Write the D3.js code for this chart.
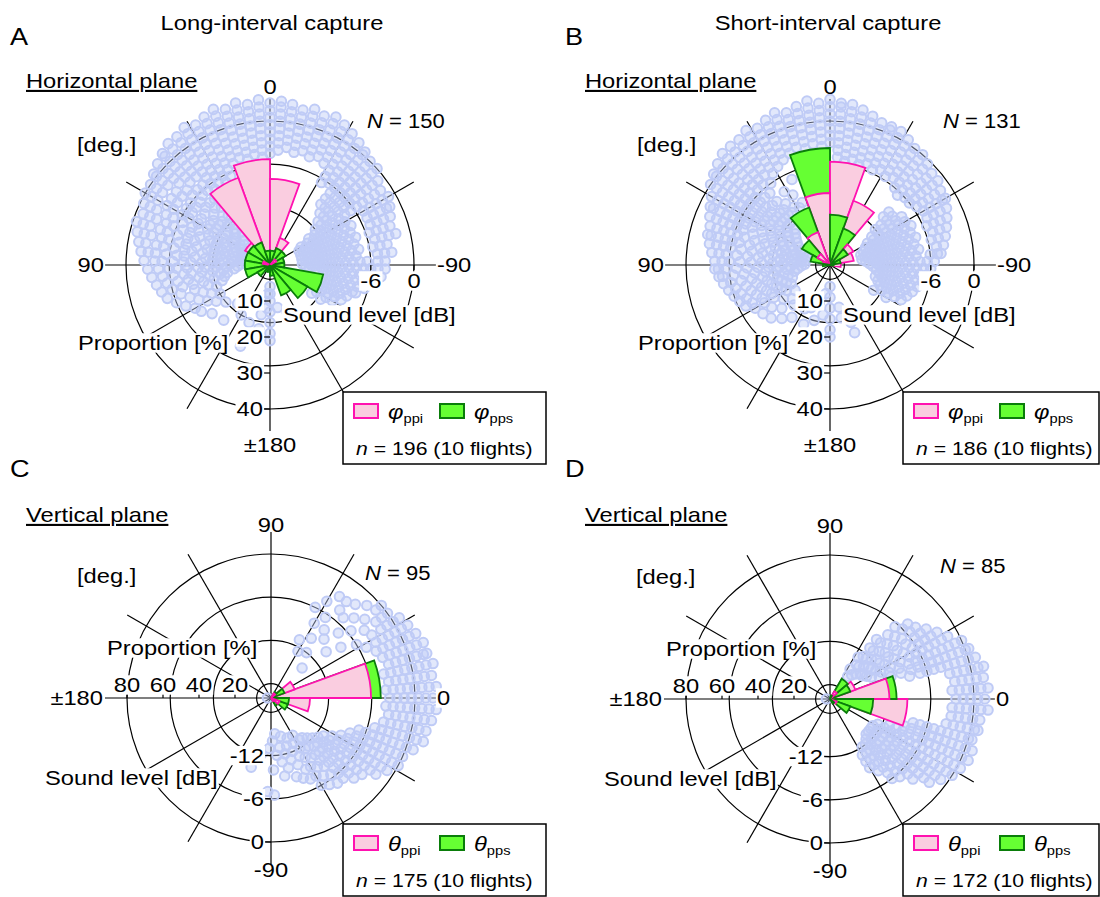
<!DOCTYPE html>
<html><head><meta charset="utf-8">
<script src="https://cdn.jsdelivr.net/npm/d3@7"></script>
<style>body{margin:0;background:#fff}svg{display:block}</style>
</head><body><svg id="chart" width="1100" height="897"></svg>
<script>
// ---------- data ----------
const binStarts = [-180,-160,-140,-120,-100,-80,-60,-40,-20,0,20,40,60,80,100,120,140,160];
const ppiA = [0,0,0,0,0,0,2,8,23.9,29.4,25.8,8,2,0,0,0,0,0];
const ppsA = [3,9,12,15,4,4,5,5,4,4,6.7,7,7,7,7,4,2,2];
const ppiB = [0,0,0,0,3,6.7,7.5,19,28.7,20,9.7,4,2,0,0,0,0,0];
const ppsB = [0,0,0,0,1,3,5.7,10.8,14,32.5,17,9,5.5,2,0,0,0,0];
const ppiC = [0,0,0,0,0,0,2,5,21.7,55.6,14,3,0,0,0,0,0,0];
const ppsC = [0,0,0,0,0,0,5,10,10,61,8,4,0,0,0,0,0,0];
const ppiD = [0,0,0,0,0,0,0,4,43,33,15,5,0,0,0,0,0,0];
const ppsD = [0,0,0,0,0,0,3,12,24,37,12,13,2,0,0,0,0,0];
const dbTicks = [-18,-12,-6,0];
const dbLabelsH = [-6,0];
const dbLabelsV = [-12,-6,0];
const propTicksH = [10,20,30,40];
const propTicksV = [20,40,60,80];
const spokeAngles = [0,30,60,90,120,150,180,210,240,270,300,330];

// scatter rows: [angle (deg), [sound level dB ...]]
const scatterA = [
[180,[-17,-16,-15,-13.5,-12,-10.5,-9.5]],[176,[-16,-14]],[170,[-13,-11]],[160,[-11.5,-8]],[150,[-12]],
[140,[-13,-10]],[130,[-12,-9.5]],[124,[-11,-8.5]],[120,[-12,-10,-8]],[116,[-11,-9,-7]],
[112,[-12,-10,-8,-6]],[108,[-13,-11,-9,-7,-5]],[104,[-13.5,-12,-10.5,-9,-7.5,-6,-4.5]],
[100,[-14,-13,-11.5,-10,-8.5,-7,-5.5,-4]],[96,[-15,-13.5,-12,-10.5,-9,-8,-6.5,-5,-3.5]],
[92,[-15.5,-14,-12.5,-11,-10,-8.5,-7,-6,-4.5,-3]],[88,[-16,-14.5,-13,-12,-10.5,-9,-8,-6.5,-5,-4,-2.5]],
[84,[-16.5,-15,-13.5,-12,-11,-9.5,-8,-7,-5.5,-4,-3,-2]],[80,[-16,-14.5,-13,-12,-10.5,-9,-8,-6.5,-5,-4,-2.5,-1.5]],
[76,[-16.5,-15,-13.5,-12,-11,-9.5,-8,-7,-5.5,-4.5,-3,-2,-1]],[72,[-16,-14.5,-13,-12,-10.5,-9,-8,-6.5,-5,-4,-2.5,-1.5,-0.5]],
[68,[-16.5,-15,-13.5,-12,-11,-9.5,-8,-7,-5.5,-4.5,-3,-2,-1]],[64,[-16,-14.5,-13,-12,-10.5,-9,-8,-6.5,-5,-4,-2.5,-1.5,-0.5]],
[60,[-15.5,-14,-12.5,-11,-10,-8.5,-7,-6,-4.5,-3.5,-2,-1,0]],[56,[-15,-14,-12.5,-11,-10,-8.5,-7,-6,-4.5,-3.5,-2,-1,0]],
[52,[-15.5,-14,-12.5,-11,-10,-8.5,-7,-6,-4.5,-3.5,-2,-1,0,0.5]],[48,[-15,-13.5,-12,-11,-9.5,-8,-7,-5.5,-4.5,-3,-2,-1,0,1]],
[44,[-14.5,-13,-12,-10.5,-9,-8,-6.5,-5.5,-4,-3,-2,-1,0,1,1.5]],[40,[-14,-12.5,-11,-9.5,-8,-6.5,-5.5,-4,-3,-2,-1,0,1,2]],
[36,[-7,-6,-5,-4,-3,-2,-1,0,1,2]],[32,[-6.5,-5.5,-4.5,-3.5,-2.5,-1.5,-0.5,0.5,1.5,2.5]],
[28,[-7,-6,-5,-4,-3,-2,-1,0,1,2]],[24,[-6.5,-5.5,-4.5,-3.5,-2.5,-1.5,-0.5,0.5,1.5,2.5]],
[20,[-5,-4,-3,-2,-1,0,1,2,3]],[16,[-4.5,-3.5,-2.5,-1.5,-0.5,0.5,1.5,2.5]],[12,[-5,-4,-3,-2,-1,0,1,2,3]],
[8,[-4.5,-3.5,-2.5,-1.5,-0.5,0.5,1.5,2.5]],[4,[-5,-4,-3,-2,-1,0,1,2,3]],[0,[-4.5,-3.5,-2.5,-1.5,-0.5,0.5,1.5,2.5]],
[-4,[-4,-3,-2,-1,0,1,2,2.8]],[-8,[-3.5,-2.5,-1.5,-0.5,0.5,1.5,2.5]],[-12,[-4,-3,-2,-1,0,1,2]],
[-16,[-3.5,-2.5,-1.5,-0.5,0.5,1.5,2.5]],[-20,[-4,-3,-2,-1,0,1,2]],[-24,[-3.5,-2.5,-1.5,-0.5,0.5,1.5,2.5]],
[-28,[-4,-3,-2,-1,0,1,2]],[-32,[-6.5,-5.5,-4.5,-3.5,-2.5,-1.5,-0.5,0.5,1.5]],[-36,[-6,-5,-4,-3,-2,-1,0,1]],
[-40,[-9,-8,-7,-6,-5,-4,-3,-2,-1,0,0.5]],[-44,[-10,-9,-8,-7,-6,-5,-4,-3,-2,-1,0]],
[-48,[-11,-10,-9,-8,-7,-6,-5,-4,-3,-2,-1,0]],[-52,[-12,-11,-10,-9,-8,-7,-6,-5,-4,-3,-2,-1]],
[-56,[-13.5,-12.5,-11.5,-10.5,-9.5,-8.5,-7.5,-6.5,-5.5,-4.5,-3.5,-2.5,-1.5]],
[-60,[-15,-14,-13,-12,-11,-10,-9,-8,-5,-4,-3,-2,-1]],[-64,[-15.5,-14.5,-13.5,-12.5,-11.5,-10.5,-9.5,-8.5,-7.5,-5,-4,-3,-2,-1.5]],
[-68,[-15,-14,-13,-12,-11,-10,-9,-8,-5,-4,-3,-2]],[-72,[-15.5,-14.5,-13.5,-12.5,-11.5,-10.5,-9.5,-8.5,-7.5,-5.5,-4.5,-3.5,-2.5]],
[-76,[-15,-14,-13,-12,-11,-10,-9,-8,-5,-4,-3,-2]],[-80,[-15.5,-14.5,-13.5,-12.5,-11.5,-10.5,-9.5,-8.5,-7.5,-5.5,-4.5,-3.5]],
[-84,[-15,-14,-13,-12,-11,-10,-9,-8,-5,-4,-3]],[-88,[-15.5,-14.5,-13.5,-12.5,-11.5,-10.5,-9.5,-8.5,-7.5,-6.5,-5,-4]],
[-92,[-15,-14,-13,-12,-11,-10,-9,-8,-7,-6,-5,-4]],[-96,[-14.5,-13.5,-12.5,-11.5,-10.5,-9.5,-8.5,-7.5,-6.5,-5.5,-4.5]],
[-100,[-12,-11,-10,-9,-8,-7,-6]],[-104,[-12.5,-11.5,-10.5,-9.5,-8.5,-7.5,-6.5]],[-108,[-12,-11,-10,-9,-8,-7.5]],
[-112,[-12.5,-11.5,-10.5,-9.5,-8.5]],[-116,[-12,-11,-10,-9]],[-120,[-12.5,-11,-10]],[-124,[-13,-11.5]],
[-160,[-13]],[-170,[-14]]
];
const scatterB = [
[180,[-17,-15.5,-14,-12.5,-11,-10]],[172,[-16,-13]],[164,[-14.5,-12]],[156,[-13.5,-11]],[150,[-13]],[144,[-14,-11]],
[138,[-12.5,-10]],[132,[-13,-11,-9]],[126,[-14,-12,-10,-8.5]],[120,[-13,-11,-9.5,-8]],[116,[-14,-12.5,-11,-9.5,-8,-7]],
[112,[-13.5,-12,-10.5,-9,-7.5,-6.5]],[108,[-14.5,-13,-11.5,-10,-8.5,-7,-6]],[104,[-14,-12.5,-11,-9.5,-8,-6.5,-5.5]],
[100,[-15,-13.5,-12,-10.5,-9,-7.5,-6,-5]],[96,[-15.5,-14,-12.5,-11,-9.5,-8,-6.5,-5,-4.5]],
[92,[-16,-14.5,-13,-11.5,-10,-8.5,-7,-5.5,-4.5,-4]],[88,[-16.5,-15,-13.5,-12,-10.5,-9,-7.5,-6,-5,-4]],
[84,[-16,-14.5,-13,-11.5,-10,-8.5,-7,-5.5,-4.5,-3.5]],[80,[-16.5,-15,-13.5,-12,-10.5,-9,-7.5,-6,-5,-4,-3]],
[76,[-16,-14.5,-13,-11.5,-10,-8.5,-7,-6,-5,-4,-3,-2.5]],[72,[-16.5,-15,-13.5,-12,-10.5,-9,-7.5,-6.5,-5.5,-4.5,-3.5,-2.5]],
[68,[-16,-14.5,-13,-11.5,-10,-8.5,-7,-6,-5,-4,-3,-2]],[64,[-15.5,-14,-12.5,-11,-9.5,-8,-7,-6,-5,-4,-3,-2,-1.5]],
[60,[-15,-13.5,-12,-10.5,-9,-8,-7,-6,-5,-4,-3,-2,-1]],[56,[-14.5,-13,-11.5,-10,-9,-8,-7,-6,-5,-4,-3,-2,-1,0]],
[52,[-14,-12.5,-11,-10,-9,-8,-7,-6,-5,-4,-3,-2,-1,0,0.5]],[48,[-13.5,-12,-11,-10,-9,-8,-7,-6,-5,-4,-3,-2,-1,0,1]],
[44,[-13,-12,-11,-10,-8.5,-7,-5.5,-4.5,-3.5,-2.5,-1.5,-0.5,0.5,1.5]],[40,[-11,-10,-8.5,-7,-5.5,-4.5,-3.5,-2.5,-1.5,-0.5,0.5,1.5]],
[36,[-11,-9.5,-6,-4.5,-3.5,-2.5,-1.5,-0.5,0.5,1.5]],[32,[-10.5,-8,-5,-4,-3,-2,-1,0,1,2]],
[28,[-11,-9,-4.5,-3.5,-2.5,-1.5,-0.5,0.5,1.5]],[24,[-10.5,-7,-4,-3,-2,-1,0,1,2]],
[20,[-3.5,-2.5,-1.5,-0.5,0.5,1.5,2.5]],[16,[-3,-2,-1,0,1,2]],[12,[-3.5,-2.5,-1.5,-0.5,0.5,1.5,2.5]],
[8,[-3,-2,-1,0,1,2,3]],[4,[-3.5,-2.5,-1.5,-0.5,0.5,1.5,2.5]],[0,[-3,-2,-1,0,1,2,3]],
[-4,[-5,-4,-3,-2,-1,0,1,2,2.5]],[-8,[-5.5,-4.5,-3.5,-2.5,-1.5,-0.5,0.5,1.5,2.5]],[-12,[-5,-4,-3,-2,-1,0,1,2]],
[-16,[-5.5,-4.5,-3.5,-2.5,-1.5,-0.5,0.5,1.5]],[-20,[-5,-4,-3,-2,-1,0,1]],[-24,[-5.5,-4.5,-3.5,-2.5,-1.5,-0.5,0.5,1]],
[-28,[-5,-4,-3,-2,-1,0,1]],[-32,[-5.5,-4.5,-3.5,-2.5,-1.5,-0.5,0.5]],[-36,[-5,-4,-3,-2,-1,0]],
[-40,[-6,-5,-4,-3,-2,-1,0]],[-44,[-6.5,-5.5,-4.5,-3.5,-2.5,-1.5,-0.5]],[-48,[-10,-9,-6,-5,-4,-3,-2,-1]],
[-52,[-12,-11,-10,-9,-6,-5,-4,-3,-2,-1]],[-56,[-13,-12,-11,-10,-9,-8,-5.5,-4.5,-3.5,-2.5,-1.5]],
[-60,[-14,-13,-12,-11,-10,-9,-8,-5,-4,-3,-2,-1.5]],[-64,[-14.5,-13.5,-12.5,-11.5,-10.5,-9.5,-8.5,-7.5,-5,-4,-3,-2]],
[-68,[-15,-14,-13,-12,-11,-10,-9,-8,-5.5,-4.5,-3.5,-2.5]],[-72,[-15.5,-14.5,-13.5,-12.5,-11.5,-10.5,-9.5,-8.5,-7.5,-5,-4,-3]],
[-76,[-15,-14,-13,-12,-11,-10,-9,-8,-5.5,-4.5,-3.5]],[-80,[-15.5,-14.5,-13.5,-12.5,-11.5,-10.5,-9.5,-8.5,-7.5,-5,-4]],
[-84,[-15,-14,-13,-12,-11,-10,-9,-8,-6,-5,-4.5]],[-88,[-14.5,-13.5,-12.5,-11.5,-10.5,-9.5,-8.5,-7.5,-6.5,-5.5]],
[-92,[-14,-13,-12,-11,-10,-9,-8,-7,-6]],[-96,[-13.5,-12.5,-11.5,-10.5,-9.5,-8.5,-7.5,-6.5]],
[-100,[-13,-12,-11,-10,-9,-8,-7]],[-104,[-13.5,-12.5,-11.5,-10.5,-9.5,-8.5,-7.5]],[-108,[-13,-12,-11,-10,-9,-8]],
[-112,[-12.5,-11.5,-10.5,-9.5,-8.5]],[-116,[-12,-11,-10,-9]],[-120,[-13,-11]],[-150,[-12]],[-160,[-11.5,-10]],[-168,[-14,-12.5]]
];
const scatterC = [
[64,[-11,-6]],[60,[-12.5,-8,-4.5]],[56,[-10,-6.5,-3]],[52,[-12,-8,-4.5,-3]],[48,[-9,-5,-2.5]],[44,[-14,-7,-4,-1.5]],
[40,[-10,-5.5,-3,-1,0]],[36,[-8,-4,-2,-1,0]],[32,[-6,-3.5,-2,-1,0,1]],[28,[-5,-3.5,-2.5,-1.5,-0.5,0.5,1.5]],
[24,[-4,-3,-2,-1,0,1,2]],[20,[-3.5,-2.5,-1.5,-0.5,0.5,1.5,2.5]],[16,[-3,-2,-1,0,1,2,2.5]],
[12,[-4,-3,-2,-1,0,1,2,3]],[8,[-3.5,-2.5,-1.5,-0.5,0.5,1.5,2.5]],[4,[-4,-3,-2,-1,0,1,2,3]],
[0,[-3.5,-2.5,-1.5,-0.5,0.5,1.5,2.5]],[-4,[-4,-3,-2,-1,0,1,2,3]],[-8,[-3.5,-2.5,-1.5,-0.5,0.5,1.5,2.5]],
[-12,[-4,-3,-2,-1,0,1,2]],[-16,[-5,-4,-3,-2,-1,0,1,2]],[-20,[-7,-6,-5,-4,-3,-2,-1,0,1]],
[-24,[-8,-7,-6,-5,-4,-3,-2,-1,0]],[-28,[-9,-8,-7,-6,-5,-4,-3,-2,-1,0]],[-32,[-10,-9,-8,-7,-6,-5,-4,-3,-2,-1]],
[-36,[-11,-10,-9,-8,-7,-6,-5,-4,-3,-2]],[-40,[-11.5,-10.5,-9.5,-8.5,-7.5,-6.5,-5.5,-4.5,-3.5]],
[-44,[-12,-11,-10,-9,-8,-7,-6,-5,-4]],[-48,[-12.5,-11,-10,-9,-8,-7,-6,-5]],[-52,[-13,-11.5,-10,-9,-8,-6.5,-5]],
[-56,[-13,-11.5,-10,-8.5,-7,-5.5]],[-60,[-14,-12,-10.5,-9,-7.5,-6]],[-64,[-13,-11,-9,-7.5]],[-68,[-14,-12,-10,-8]],
[-72,[-13,-11,-8.5]],[-76,[-14.5,-12,-10]],[-80,[-13,-11,-9]],[-84,[-15,-12]],[-88,[-14,-10,-6.5]],[-92,[-13,-7]],
[-100,[-12]],[-106,[-10]],[180,[-19.5]]
];
const scatterD = [
[56,[-15,-13]],[52,[-16,-14,-12.5,-11,-9.5]],[48,[-15.5,-14,-12.5,-11,-9.5,-8,-6.5]],[44,[-15,-13.5,-12,-10.5,-9,-7.5,-6,-5]],
[40,[-14.5,-13,-11.5,-10,-8.5,-7,-5.5,-4.5]],[36,[-14.5,-13,-11.5,-10,-8.5,-7,-5.5,-4.5,-3.5]],
[32,[-14,-12.5,-11,-9.5,-8,-6.5,-5.5,-4.5,-3.5,-2.5]],[28,[-13.5,-12,-10.5,-9,-7.5,-6.5,-5.5,-4.5,-3.5,-2.5,-1.5]],
[24,[-12.5,-11,-9.5,-8,-7,-6,-5,-4,-3,-2,-1,0]],[20,[-11,-9.5,-8,-7,-6,-5,-4,-3,-2,-1,0,0.5]],
[16,[-8.5,-7,-6,-5,-4,-3,-2,-1,0,1]],[12,[-3,-2,-1,0,1,1.8]],[8,[-2.5,-1.5,-0.5,0.5,1.5]],[4,[-3,-2,-1,0,1,2]],
[0,[-2.5,-1.5,-0.5,0.5,1.5]],[-4,[-3,-2,-1,0,1,2]],[-8,[-3,-2,-1,0,1]],[-12,[-3.5,-2.5,-1.5,-0.5,0.5,1]],
[-16,[-8,-7,-6,-5,-4,-3,-2,-1,0,0.5]],[-20,[-9,-8,-7,-6,-5,-4,-3,-2,-1,0,1]],
[-24,[-11,-10,-9,-8,-7,-6,-5,-4,-3,-2,-1,0,1]],[-28,[-12.5,-11.5,-10.5,-9.5,-8.5,-7.5,-6.5,-5.5,-4.5,-3.5,-2.5,-1.5,-0.5,0.5]],
[-32,[-13,-12,-11,-10,-9,-8,-7,-6,-5,-4,-3,-2,-1,0]],[-36,[-13,-12,-11,-10,-9,-8,-7,-6,-5,-4,-3,-2,-1]],
[-40,[-13,-12,-11,-10,-9,-8,-7,-6,-5,-4,-3,-2]],[-44,[-13,-12,-11,-10,-9,-8,-7,-6,-5,-4]],
[-48,[-12.5,-11.5,-10.5,-9.5,-8.5,-7.5,-6.5,-5.5]],[-52,[-12,-11,-10,-9,-8,-7,-6]],[-56,[-12,-11,-10,-9,-8]],
[-60,[-11,-10,-9]],[180,[-19.5]]
];

// ---------- drawing ----------
const SX = 1.13;
const FONT = '"Liberation Sans", Arial, Helvetica, sans-serif';
const PINK = "#facde0", MAG = "#ff12b0", GREEN = "#66ff33", DGREEN = "#0a7d0a", DOT = "#bfcbf6";
const svg = d3.select("#chart");

function label(parent, x, y, parts, o = {}) {
  const g = parent.append("g").attr("transform", `translate(${x},${y}) scale(${SX},1)`);
  const t = g.append("text").attr("text-anchor", o.anchor || "start")
    .attr("font-size", o.size || 21).attr("font-family", FONT).attr("fill", "#000");
  if (typeof parts === "string") parts = [{t: parts}];
  parts.forEach(p => {
    const s = t.append("tspan").text(p.t);
    if (p.italic) s.attr("font-style", "italic");
    if (p.sub) s.attr("font-size", 13).attr("dy", 4);
  });
  if (o.underline) t.attr("text-decoration", "underline");
  if (o.bg) {
    const b = t.node().getBBox();
    g.insert("rect", "text").attr("x", b.x - 1).attr("y", b.y + 2)
      .attr("width", b.width + 2).attr("height", b.height - 4).attr("fill", "#fff");
  }
  return g;
}

const panels = [
  {cx:270, cy:265, plane:"h", propMax:40, ppi:ppiA, pps:ppsA, scatter:scatterA, N:"150", n:"196", nx:97, ny:-137, sym:"φ", lx:73, ly:127, lw:203},
  {cx:830, cy:265, plane:"h", propMax:40, ppi:ppiB, pps:ppsB, scatter:scatterB, N:"131", n:"186", nx:113, ny:-137, sym:"φ", lx:73, ly:127, lw:196},
  {cx:271, cy:698, plane:"v", propMax:80, ppi:ppiC, pps:ppsC, scatter:scatterC, N:"95", n:"175", nx:94, ny:-118, sym:"θ", lx:72, ly:126, lw:203},
  {cx:830, cy:699, plane:"v", propMax:80, ppi:ppiD, pps:ppsD, scatter:scatterD, N:"85", n:"172", nx:110, ny:-126, sym:"θ", lx:73, ly:125, lw:196}
];

function drawPanel(p) {
  const g = svg.append("g").attr("transform", `translate(${p.cx},${p.cy})`);
  const rDb = d3.scaleLinear().domain([-20, 0]).range([0, 144]);
  const rProp = d3.scaleLinear().domain([0, p.propMax]).range([0, 144]);
  const ang = p.plane === "h" ? a => -a * Math.PI / 180 : a => (90 - a) * Math.PI / 180;
  const pr = (a, r) => d3.pointRadial(ang(a), r);

  g.selectAll(".ring").data(dbTicks).join("circle").attr("class", "ring")
    .attr("r", d => rDb(d)).attr("fill", "none").attr("stroke", "#000").attr("stroke-width", 1.2);
  g.selectAll(".spoke").data(spokeAngles).join("line").attr("class", "spoke")
    .attr("x1", 0).attr("y1", 0)
    .attr("x2", d => pr(d, 166)[0]).attr("y2", d => pr(d, 166)[1])
    .attr("stroke", "#000").attr("stroke-width", 1.2);

  const pts = p.scatter.flatMap(([a, ds]) => ds.map(d => [a, d]));
  g.selectAll(".pt").data(pts).join("circle").attr("class", "pt")
    .attr("cx", d => pr(d[0], rDb(d[1]))[0]).attr("cy", d => pr(d[0], rDb(d[1]))[1])
    .attr("r", 4.8).attr("fill", DOT).attr("fill-opacity", 0.45)
    .attr("stroke", DOT).attr("stroke-width", 2);

  const bars = [];
  binStarts.forEach((b, i) => {
    bars.push({b, v: p.ppi[i], k: "ppi"});
    bars.push({b, v: p.pps[i], k: "pps"});
  });
  const arc = d3.arc().innerRadius(0).outerRadius(d => rProp(d.v))
    .startAngle(d => ang(d.b)).endAngle(d => ang(d.b + 20));
  g.selectAll(".bar").data(bars.filter(d => d.v > 0).sort((a, b) => b.v - a.v)).join("path")
    .attr("class", "bar").attr("d", arc)
    .attr("fill", d => d.k === "ppi" ? PINK : GREEN)
    .attr("stroke", d => d.k === "ppi" ? MAG : DGREEN)
    .attr("stroke-width", 1.8).attr("stroke-linejoin", "miter");

  if (p.plane === "h") {
    label(g, 0, -171, "0", {anchor: "middle"});
    label(g, -166, 7, "90", {anchor: "end", bg: true});
    label(g, 167, 7, "-90", {bg: true});
    label(g, 0, 187, "±180", {anchor: "middle", bg: true});
    propTicksH.forEach(t => {
      const y = rProp(t);
      g.append("line").attr("x1", -6).attr("x2", 0).attr("y1", y).attr("y2", y).attr("stroke", "#000").attr("stroke-width", 1.2);
      label(g, -7, y + 7, String(t), {anchor: "end", bg: true});
    });
    dbLabelsH.forEach(t => {
      const x = rDb(t);
      g.append("line").attr("x1", x).attr("x2", x).attr("y1", 0).attr("y2", 5).attr("stroke", "#000").attr("stroke-width", 1.2);
      label(g, x, 23, String(t), {anchor: "middle", bg: true});
    });
    label(g, -193, -113, "[deg.]", {bg: true});
    label(g, -192, 85, "Proportion [%]", {bg: true});
    label(g, 13, 57, "Sound level [dB]", {bg: true});
  } else {
    label(g, 0, -166, "90", {anchor: "middle"});
    label(g, 0, 179, "-90", {anchor: "middle"});
    label(g, -168, 7, "±180", {anchor: "end", bg: true});
    label(g, 166, 7, "0", {bg: true});
    propTicksV.forEach(t => {
      const x = -rProp(t);
      g.append("line").attr("x1", x).attr("x2", x).attr("y1", -5).attr("y2", 0).attr("stroke", "#000").attr("stroke-width", 1.2);
      label(g, x, -6, String(t), {anchor: "middle", bg: true});
    });
    dbLabelsV.forEach(t => {
      const y = rDb(t);
      g.append("line").attr("x1", -6).attr("x2", 0).attr("y1", y).attr("y2", y).attr("stroke", "#000").attr("stroke-width", 1.2);
      label(g, -7, y + 7, String(t), {anchor: "end", bg: true});
    });
    label(g, -194, -115, "[deg.]", {bg: true});
    label(g, -164, -43, "Proportion [%]", {bg: true});
    label(g, -226, 87, "Sound level [dB]", {bg: true});
  }
  label(g, p.nx, p.ny, [{t: "N", italic: true}, {t: " = " + p.N}], {bg: true, size: 19.5});

  const lg = g.append("g").attr("transform", `translate(${p.lx},${p.ly})`);
  lg.append("rect").attr("width", p.lw).attr("height", 72).attr("fill", "#fff").attr("stroke", "#000").attr("stroke-width", 1.5);
  lg.append("rect").attr("x", 11).attr("y", 12).attr("width", 24).attr("height", 14)
    .attr("fill", PINK).attr("stroke", MAG).attr("stroke-width", 2);
  label(lg, 45, 27, [{t: p.sym, italic: true}, {t: "ppi", sub: true}]);
  lg.append("rect").attr("x", 97).attr("y", 12).attr("width", 24).attr("height", 14)
    .attr("fill", GREEN).attr("stroke", DGREEN).attr("stroke-width", 2);
  label(lg, 131, 27, [{t: p.sym, italic: true}, {t: "pps", sub: true}]);
  label(lg, 13, 63, [{t: "n", italic: true}, {t: " = " + p.n + " (10 flights)"}], {size: 18.8});
}

panels.forEach(drawPanel);

label(svg, 10, 45, "A", {size: 24});
label(svg, 565, 45, "B", {size: 24});
label(svg, 10, 477, "C", {size: 24});
label(svg, 565, 477, "D", {size: 24});
label(svg, 272, 30, "Long-interval capture", {anchor: "middle"});
label(svg, 828, 30, "Short-interval capture", {anchor: "middle"});
label(svg, 26, 88, "Horizontal plane", {underline: true});
label(svg, 585, 88, "Horizontal plane", {underline: true});
label(svg, 26, 522, "Vertical plane", {underline: true});
label(svg, 585, 522, "Vertical plane", {underline: true});
</script>
</body></html>
